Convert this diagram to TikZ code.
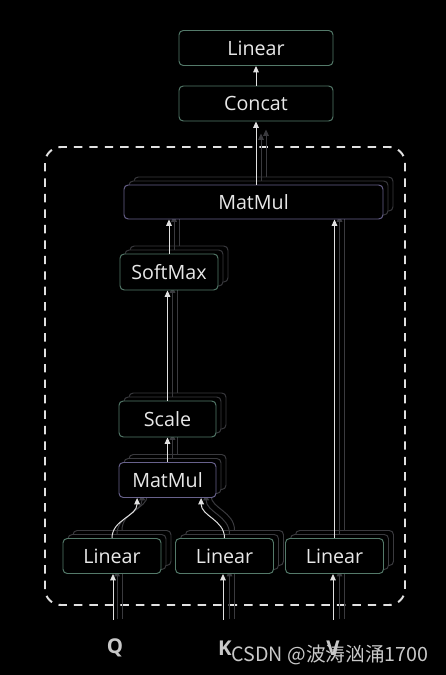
\documentclass[tikz,border=0pt]{standalone}
\usepackage{fontspec}
\setmainfont{Open Sans}
\newfontfamily\cjkfont{Noto Sans CJK SC}
\usetikzlibrary{arrows.meta}
\definecolor{boxgreen}{RGB}{84,122,106}
\definecolor{boxpurple}{RGB}{104,98,140}
\definecolor{dimline}{RGB}{58,58,62}
\definecolor{arrowc}{RGB}{225,225,225}
\definecolor{textc}{RGB}{232,232,232}
\definecolor{labelgray}{RGB}{200,200,200}

\begin{document}
\begin{tikzpicture}[
    box/.style={draw=boxgreen,fill=black,rounded corners=3pt,line width=0.7pt,
        text=textc,font=\fontsize{14}{16}\selectfont,inner sep=0pt,
        minimum width=2.45cm,minimum height=0.875cm},
    mmbox/.style={box,draw=boxpurple},
    ghost/.style={draw=dimline,fill=black,rounded corners=3pt,line width=0.7pt,
        inner sep=0pt,minimum width=2.45cm,minimum height=0.875cm},
    arr/.style={draw=arrowc,line width=0.7pt,-{Triangle[length=4.5pt,width=4pt]}},
    ghostarr/.style={arr,draw=dimline},
    inlabel/.style={text=labelgray,font=\fontsize{14.5}{17}\selectfont\bfseries},
    dashbox/.style={draw=arrowc,line width=1.4pt,dash pattern=on 6pt off 5pt,rounded corners=0.4cm}]
\fill[black] (0,0) rectangle (11.15,16.875);
\useasboundingbox (0,0) rectangle (11.15,16.875);

\draw[dashbox] (1.125,1.75) rectangle (10.125,13.2);
\coordinate (dbot) at (0,1.4);

% the other heads, behind
\foreach \s in {2,1}{
\begin{scope}[shift={(0.125*\s,0.1*\s)}]
    \node[ghost,minimum width=6.475cm,minimum height=0.85cm] (mmb\s) at (6.3375,11.825) {};
    \node[ghost,minimum height=0.9cm] (sm\s) at (4.225,10.075) {};
    \node[ghost,minimum width=2.425cm,minimum height=0.9cm] (sc\s) at (4.1875,6.4) {};
    \node[ghost,minimum width=2.425cm] (mms\s) at (4.1875,4.875) {};
    \node[ghost] (lq\s) at (2.8,2.975) {};
    \node[ghost] (lk\s) at (5.6125,2.975) {};
    \node[ghost] (lv\s) at (8.3625,2.975) {};
    \coordinate (cx\s) at (6.4,11);
    \draw[ghostarr] (lq\s.south |- dbot) -- (lq\s.south);
    \draw[ghostarr] (lk\s.south |- dbot) -- (lk\s.south);
    \draw[ghostarr] (lv\s.south |- dbot) -- (lv\s.south);
    \draw[ghostarr] (lq\s.north) to[out=90,in=-90] ([xshift=-0.76cm]mms\s.south);
    \draw[ghostarr] (lk\s.north) to[out=90,in=-90] ([xshift=0.84cm]mms\s.south);
    \draw[ghostarr] (mms\s.north) -- (mms\s.north |- sc\s.south);
    \draw[ghostarr] (sc\s.north) -- (sc\s.north |- sm\s.south);
    \draw[ghostarr] (sm\s.north) -- (sm\s.north |- mmb\s.south);
    \draw[ghostarr] (lv\s.north) -- (lv\s.north |- mmb\s.south);
    \draw[ghostarr] (cx\s |- mmb\s.north) -- (cx\s |- 0,13.4375);
\end{scope}
}

% front head
\node[mmbox,minimum width=6.475cm,minimum height=0.85cm] (mmb) at (6.3375,11.825) {MatMul};
\node[box,minimum height=0.9cm] (sm) at (4.225,10.075) {SoftMax};
\node[box,minimum width=2.425cm,minimum height=0.9cm] (sc) at (4.1875,6.4) {Scale};
\node[mmbox,minimum width=2.425cm] (mms) at (4.1875,4.875) {MatMul};
\node[box] (lq) at (2.8,2.975) {Linear};
\node[box] (lk) at (5.6125,2.975) {Linear};
\node[box] (lv) at (8.3625,2.975) {Linear};

\node[box,minimum width=3.85cm] (concat) at (6.4,14.2875) {Concat};
\node[box,minimum width=3.85cm] (lin) at (6.4,15.675) {Linear};

\coordinate (inq) at (2.825,1.375);
\coordinate (ink) at (5.575,1.375);
\coordinate (inv) at (8.325,1.375);
\draw[arr] (inq) -- (inq |- lq.south);
\draw[arr] (ink) -- (ink |- lk.south);
\draw[arr] (inv) -- (inv |- lv.south);
\draw[arr] (lq.north) to[out=90,in=-90] ([xshift=-0.76cm]mms.south);
\draw[arr] (lk.north) to[out=90,in=-90] ([xshift=0.84cm]mms.south);
\draw[arr] (mms) -- (sc);
\draw[arr] (sc.north) -- (sc.north |- sm.south);
\draw[arr] (sm.north) -- (sm.north |- mmb.south);
\draw[arr] (lv.north) -- (lv.north |- mmb.south);
\draw[arr] (concat.south |- mmb.north) -- (concat.south);
\draw[arr] (concat) -- (lin);

\node[inlabel] (q) at (2.875,0.675) {Q};
\node[inlabel] (k) at (5.625,0.675) {K};
\node[inlabel] (v) at (8.325,0.675) {V};
\node[text=labelgray,font=\cjkfont\fontsize{14}{16}\selectfont] (mark) at (8.25,0.5) {CSDN @波涛汹涌1700};
\end{tikzpicture}
\end{document}
